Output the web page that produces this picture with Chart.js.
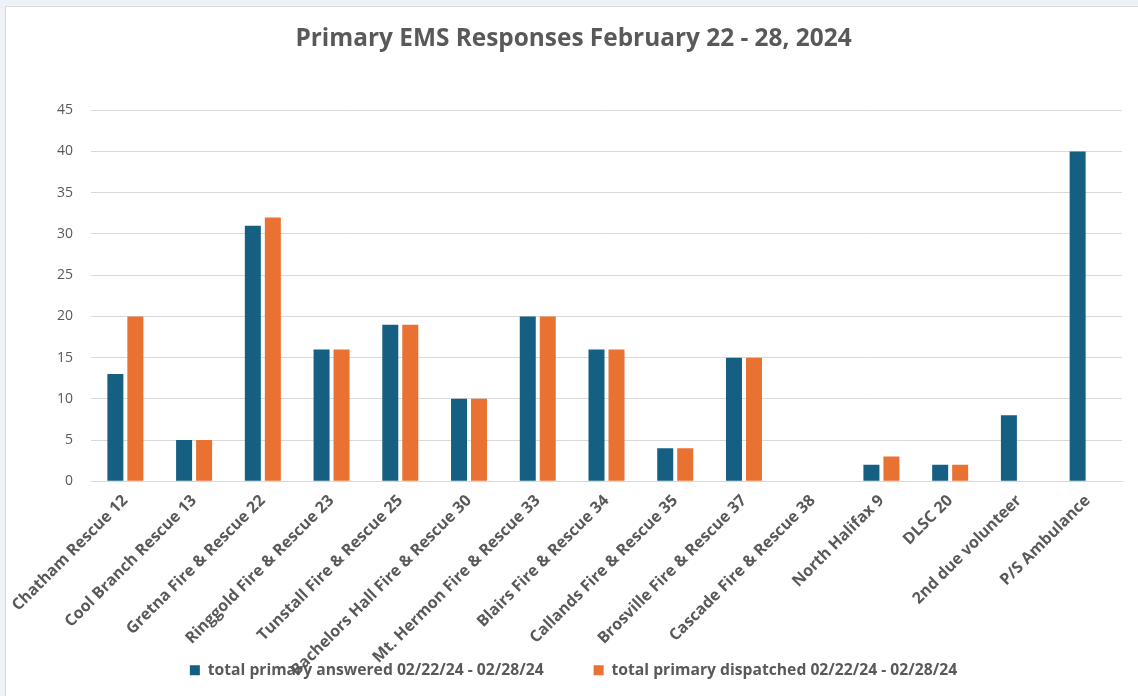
<!DOCTYPE html>
<html>
<head>
<meta charset="utf-8">
<script src="https://cdn.jsdelivr.net/npm/chart.js@4.4.1/dist/chart.umd.min.js"></script>
<style>
    html, body { margin: 0; padding: 0; background: #eef2f7; }
    #card {
        position: absolute; left: 5px; top: 6px; width: 1140px; height: 700px;
        background: #ffffff; border: 1px solid #d6d9de; box-sizing: border-box;
    }
    #wrap { position: absolute; left: 0; top: 0; width: 1138px; height: 696px; }
</style>
</head>
<body>
<div id="card"></div>
<div id="wrap"><canvas id="chart"></canvas></div>
<script>
// ── Data ──────────────────────────────────────────────────────────────────────
const stations = [
    'Chatham Rescue 12',
    'Cool Branch Rescue 13',
    'Gretna Fire & Rescue 22',
    'Ringgold Fire & Rescue 23',
    'Tunstall Fire & Rescue 25',
    'Bachelors Hall Fire & Rescue 30',
    'Mt. Hermon Fire & Rescue 33',
    'Blairs Fire & Rescue 34',
    'Callands Fire & Rescue 35',
    'Brosville Fire & Rescue 37',
    'Cascade Fire & Rescue 38',
    'North Halifax 9',
    'DLSC 20',
    '2nd due volunteer',
    'P/S Ambulance',
];
const answered   = [13, 5, 31, 16, 19, 10, 20, 16, 4, 15, 0, 2, 2, 8, 40];
const dispatched = [20, 5, 32, 16, 19, 10, 20, 16, 4, 15, 0, 3, 2, null, null];

const seriesNames = [
    'total primary answered 02/22/24 - 02/28/24',
    'total primary dispatched 02/22/24 - 02/28/24',
];
const yTicks = [0, 5, 10, 15, 20, 25, 30, 35, 40, 45];

const TEXT = '#595959';
const FONT = "'Open Sans', Roboto, sans-serif";

// The x labels run down into the legend area, as in the original.
// Chart.js clips tick labels to the scale box, so widen the box after layout.
const unclipLabels = {
    id: 'unclipLabels',
    afterLayout(chart) {
        chart.scales.x.bottom = chart.height;
    },
};

new Chart(document.getElementById('chart'), {
    type: 'bar',
    data: {
        labels: stations,
        datasets: [
            { label: seriesNames[0], data: answered,   backgroundColor: '#156082' },
            { label: seriesNames[1], data: dispatched, backgroundColor: '#E97132' },
        ],
    },
    options: {
        responsive: true,
        maintainAspectRatio: false,
        animation: false,
        datasets: { bar: { categoryPercentage: 0.582, barPercentage: 0.8, borderWidth: 0 } },
        layout: { padding: { left: 25, right: 16, top: 0, bottom: 8 } },
        scales: {
            x: {
                grid: { display: false },
                border: { color: '#d9d9d9' },
                ticks: {
                    color: TEXT,
                    font: { family: FONT, size: 16, weight: 'bold' },
                    minRotation: 45,
                    maxRotation: 45,
                    autoSkip: false,
                    padding: 2,
                },
                afterFit: (scale) => {
                    scale.height = 131;
                    scale.paddingLeft = 0;
                    scale.paddingRight = 0;
                },
            },
            y: {
                min: 0,
                max: yTicks[yTicks.length - 1],
                afterBuildTicks: (scale) => { scale.ticks = yTicks.map((v) => ({ value: v })); },
                grid: { color: '#d9d9d9', drawTicks: false },
                border: { display: false },
                ticks: {
                    color: TEXT,
                    font: { family: FONT, size: 14 },
                    padding: 18,
                },
                afterFit: (scale) => { scale.width = 66; },
            },
        },
        plugins: {
            title: {
                display: true,
                text: 'Primary EMS Responses February 22 - 28, 2024',
                color: TEXT,
                font: { family: FONT, size: 24.4, weight: 'bold' },
                padding: { top: 24, bottom: 57 },
            },
            legend: {
                position: 'bottom',
                labels: {
                    color: TEXT,
                    font: { family: FONT, size: 15.7, weight: 'bold' },
                    boxWidth: 10,
                    boxHeight: 10,
                    padding: 50,
                },
            },
            tooltip: { enabled: false },
        },
    },
    plugins: [unclipLabels],
});
</script>
</body>
</html>
